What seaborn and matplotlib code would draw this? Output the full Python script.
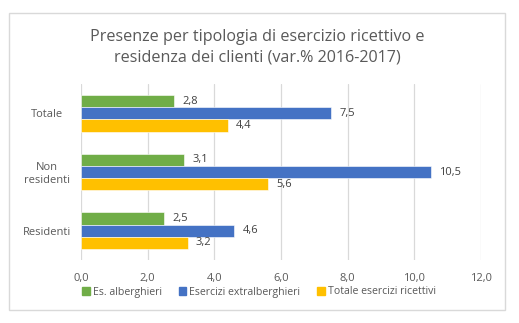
import matplotlib
matplotlib.use("Agg")
import matplotlib.pyplot as plt
import matplotlib.patches as mpatches
from matplotlib.ticker import FuncFormatter
import pandas as pd
import seaborn as sns

categories = ["Totale", "Non\nresidenti", "Residenti"]
series_names = ["Es. alberghieri", "Esercizi extralberghieri", "Totale esercizi ricettivi"]
alberghieri = [2.8, 3.1, 2.5]
extralberghieri = [7.5, 10.5, 4.6]
totale_ricettivi = [4.4, 5.6, 3.2]
x_ticks = [0, 2, 4, 6, 8, 10, 12]
colors = ["#70AD47", "#4472C4", "#FFC000"]

rows = []
for name, vals in zip(series_names, [alberghieri, extralberghieri, totale_ricettivi]):
    for cat, v in zip(categories, vals):
        rows.append({"categoria": cat, "serie": name, "valore": v})
df = pd.DataFrame(rows)

sns.set_theme(style="white")
plt.rcParams["font.family"] = ["Open Sans", "DejaVu Sans"]
text_color = "#595959"

fig = plt.figure(figsize=(5.19, 3.23), dpi=100)
ax = fig.add_axes([81 / 519, 1 - 260 / 323, 400 / 519, 176 / 323])

sns.barplot(data=df, y="categoria", x="valore", hue="serie", order=categories,
            hue_order=series_names, palette=colors, saturation=1, orient="h", width=0.62,
            edgecolor="white", linewidth=0.4, ax=ax, legend=False)

for container in ax.containers:
    ax.bar_label(container, labels=[f"{b.get_width():.1f}".replace(".", ",") for b in container],
                 padding=6, fontsize=8, color="#404040")

ax.set_xlim(0, 12)
ax.set_ylim(2.5, -0.5)
ax.set_xticks(x_ticks)
ax.xaxis.set_major_formatter(FuncFormatter(lambda v, p: f"{v:.1f}".replace(".", ",")))
ax.grid(axis="x", color="#d9d9d9", linewidth=0.9)
ax.set_axisbelow(True)
for s in ax.spines.values():
    s.set_visible(False)
ax.tick_params(axis="x", length=0, labelsize=8, colors=text_color, pad=9)
ax.tick_params(axis="y", length=0, labelsize=8, colors=text_color, pad=24.5)
for lbl in ax.get_yticklabels():
    lbl.set_horizontalalignment("center")
    lbl.set_multialignment("center")
ax.set_xlabel("")
ax.set_ylabel("")

fig.text(257 / 519, 1 - 47 / 323, "Presenze per tipologia di esercizio ricettivo e\nresidenza dei clienti (var.% 2016-2017)",
         ha="center", va="center", fontsize=11.6, color=text_color, linespacing=1.35)

handles = [mpatches.Patch(color=c, label=n) for c, n in zip(colors, series_names)]
fig.legend(handles=handles, loc="center", bbox_to_anchor=(259 / 519, 1 - 292 / 323), ncol=3,
           frameon=False, fontsize=7.6, handlelength=0.7, handleheight=0.7, handletextpad=0.3,
           columnspacing=1.6, labelcolor=text_color)

border = mpatches.Rectangle((9 / 519, 1 - 310 / 323), 496 / 519, 297 / 323, transform=fig.transFigure,
                            fill=False, edgecolor="#d9d9d9", linewidth=1)
fig.patches.append(border)

fig.savefig("out.png", dpi=100)
